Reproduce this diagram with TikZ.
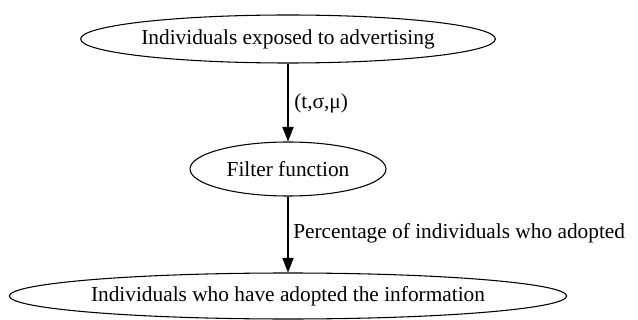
\documentclass[tikz,border=0pt]{standalone}
\usepackage{fontspec}
\setmainfont{Liberation Serif}
\usetikzlibrary{shapes.geometric,arrows.meta}
\begin{document}
\begin{tikzpicture}[x=1pt,y=1pt,
  ell/.style={draw,ellipse,inner sep=0pt,line width=0.8pt,font=\fontsize{16}{18}\selectfont},
  conn/.style={draw,line width=0.8pt,-{Triangle[length=11pt,width=8.5pt]}},
  lbl/.style={anchor=west,inner sep=0pt,font=\fontsize{16}{18}\selectfont}]
\useasboundingbox (0,0) rectangle (478.5,-240);
\node[ell,minimum width=310.5pt,minimum height=36pt] (a) at (216,-29.25) {Individuals exposed to advertising};
\node[ell,minimum width=147pt,minimum height=40.5pt] (b) at (216,-126.75) {Filter function};
\node[ell,minimum width=410pt,minimum height=34.5pt] (c) at (216,-222) {Individuals who have adopted the information};
\draw[conn] (a) -- (b);
\draw[conn] (b) -- (c);
\node[lbl] (l1) at (220.5,-77.25) {(t,σ,μ)};
\node[lbl] (l2) at (219.75,-174.75) {Percentage of individuals who adopted};
\end{tikzpicture}
\end{document}
